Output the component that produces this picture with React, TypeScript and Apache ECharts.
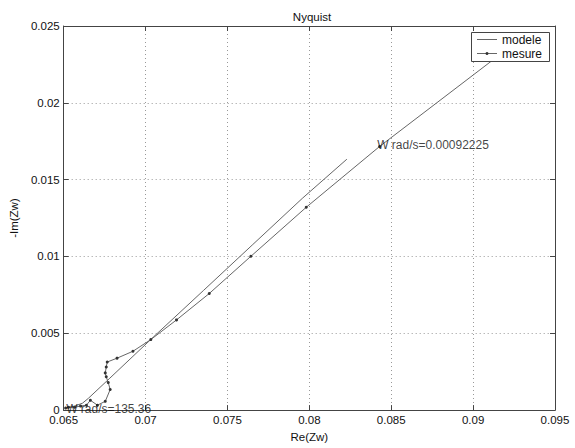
import React, { useEffect, useRef } from "react";
import * as echarts from "echarts";

// Tick settings
const xTicks = { min: 0.065, max: 0.095, interval: 0.005 };
const yTicks = { min: 0, max: 0.025, interval: 0.005 };

// "modele" curve: Re(Zw), -Im(Zw)
const modeleRe = [0.06518, 0.06567, 0.06615, 0.06651, 0.06778, 0.0705, 0.07353, 0.07655, 0.07957, 0.08229];
const modeleIm = [0.00013, 0.00026, 0.00045, 0.00077, 0.00204, 0.00478, 0.00778, 0.01078, 0.01378, 0.01633];

// "mesure" curve: Re(Zw), -Im(Zw)
const mesureRe = [0.06512, 0.0653, 0.06567, 0.06603, 0.06639, 0.06663, 0.06706, 0.06754, 0.06784, 0.06772, 0.0676, 0.06754, 0.0676, 0.06766, 0.06826, 0.06923, 0.07032, 0.07189, 0.07389, 0.07643, 0.07981, 0.08429, 0.09299];
const mesureIm = [0.00013, 0.00019, 0.00019, 0.00026, 0.00032, 0.00064, 0.00032, 0.00057, 0.00134, 0.00179, 0.00217, 0.00242, 0.00281, 0.00313, 0.00338, 0.00383, 0.00459, 0.00587, 0.00759, 0.01001, 0.0132, 0.01716, 0.02424];

// Annotations
const annotTexts = ["W rad/s=135.36", "W rad/s=0.00092225"];
const annotRe = [0.06512, 0.08411];
const annotIm = [0.00032, 0.01754];

const FONT = "'Liberation Sans', Arial, Helvetica, sans-serif";
const AXIS_COLOR = "#444";
const fmt = (v: number) => String(parseFloat(v.toFixed(4)));

export default function App() {
  const ref = useRef<HTMLDivElement>(null);
  useEffect(() => {
    if (!ref.current) return;
    const chart = echarts.init(ref.current, undefined, { renderer: "svg" });
    const pair = (a: number[], b: number[]) => a.map((v, i) => [v, b[i]]);
    const baseAxis = {
      type: "value" as const,
      axisLine: { show: true, onZero: false, lineStyle: { color: AXIS_COLOR, width: 1 } },
      axisTick: { show: true, inside: true, length: 5, lineStyle: { color: AXIS_COLOR } },
    };
    chart.setOption({
      animation: false,
      backgroundColor: "#fff",
      title: {
        text: "Nyquist",
        left: 307,
        textAlign: "center",
        top: 6,
        textStyle: { fontSize: 11.5, fontWeight: "normal", color: "#111", fontFamily: FONT },
      },
      grid: { left: 59, right: 20, top: 26, bottom: 30 },
      xAxis: [
        {
          ...baseAxis,
          ...xTicks,
          position: "bottom",
          name: "Re(Zw)",
          nameLocation: "middle",
          nameGap: 18,
          nameTextStyle: { fontSize: 11.5, color: "#111", fontFamily: FONT },
          axisLabel: { margin: 4, fontSize: 11.5, color: "#111", fontFamily: FONT, formatter: fmt },
          splitLine: { show: true, lineStyle: { color: "#999", type: [1, 3], width: 1 } },
        },
        {
          ...baseAxis,
          ...xTicks,
          position: "top",
          axisLabel: { show: false },
          splitLine: { show: false },
        },
      ],
      yAxis: [
        {
          ...baseAxis,
          ...yTicks,
          position: "left",
          name: "-Im(Zw)",
          nameLocation: "middle",
          nameGap: 32,
          nameTextStyle: { fontSize: 11.5, color: "#111", fontFamily: FONT },
          axisLabel: { margin: 4, fontSize: 11.5, color: "#111", fontFamily: FONT, formatter: fmt },
          splitLine: { show: true, lineStyle: { color: "#999", type: [1, 3], width: 1 } },
        },
        {
          ...baseAxis,
          ...yTicks,
          position: "right",
          axisLabel: { show: false },
          splitLine: { show: false },
        },
      ],
      series: [
        {
          name: "modele",
          type: "line",
          xAxisIndex: 0,
          yAxisIndex: 0,
          data: pair(modeleRe, modeleIm),
          symbol: "none",
          lineStyle: { color: "#666", width: 1 },
        },
        {
          name: "mesure",
          type: "line",
          xAxisIndex: 0,
          yAxisIndex: 0,
          data: pair(mesureRe, mesureIm),
          symbol: "circle",
          symbolSize: 3,
          itemStyle: { color: "#333" },
          lineStyle: { color: "#666", width: 1 },
        },
        {
          name: "annot",
          type: "scatter",
          xAxisIndex: 0,
          yAxisIndex: 0,
          symbolSize: 1,
          itemStyle: { color: "rgba(0,0,0,0)" },
          data: annotRe.map((v, i) => ({ value: [v, annotIm[i]], name: annotTexts[i] })),
          label: {
            show: true,
            position: "right",
            distance: 0,
            offset: [0, 4],
            formatter: (p: any) => p.name,
            fontSize: 12,
            color: "#111",
            fontFamily: FONT,
          },
          z: 5,
        },
      ],
      graphic: [
        {
          type: "rect",
          z: 100,
          shape: { x: 471.5, y: 32.5, width: 78, height: 29 },
          style: { fill: "#fff", stroke: AXIS_COLOR, lineWidth: 1 },
        },
        {
          type: "line",
          z: 101,
          shape: { x1: 477, y1: 39.5, x2: 497, y2: 39.5 },
          style: { stroke: "#666", lineWidth: 1 },
        },
        {
          type: "text",
          z: 101,
          x: 502,
          y: 40,
          style: { text: "modele", fontSize: 12, fill: "#111", fontFamily: FONT, verticalAlign: "middle", align: "left" },
        },
        {
          type: "line",
          z: 101,
          shape: { x1: 477, y1: 53.5, x2: 497, y2: 53.5 },
          style: { stroke: "#666", lineWidth: 1 },
        },
        {
          type: "circle",
          z: 102,
          shape: { cx: 487, cy: 53.5, r: 1.5 },
          style: { fill: "#333" },
        },
        {
          type: "text",
          z: 101,
          x: 502,
          y: 54,
          style: { text: "mesure", fontSize: 12, fill: "#111", fontFamily: FONT, verticalAlign: "middle", align: "left" },
        },
      ],
    });
    return () => chart.dispose();
  }, []);
  return <div ref={ref} style={{ position: "fixed", left: 0, top: 0, width: 575, height: 448 }} />;
}
